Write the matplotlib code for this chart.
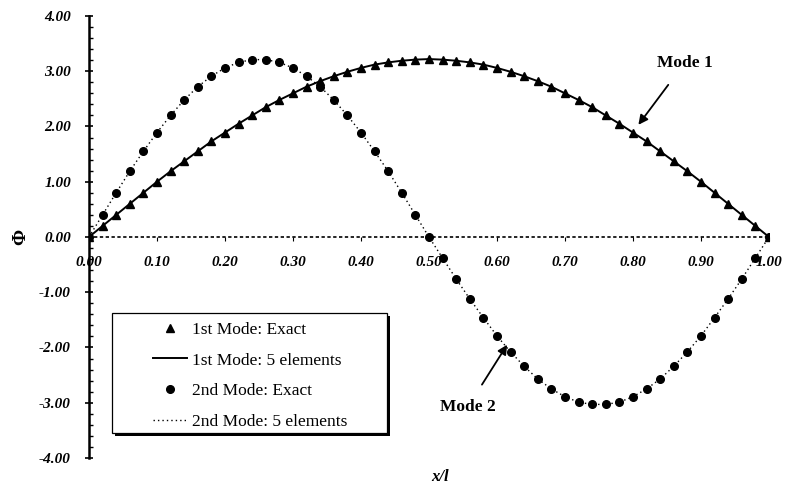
import matplotlib
matplotlib.use("Agg")
import matplotlib.pyplot as plt
from matplotlib.ticker import MultipleLocator, FixedLocator
from matplotlib.patches import Rectangle

# ---- data ----
x_pos = [0.00, 0.02, 0.04, 0.06, 0.08, 0.10, 0.12, 0.14, 0.16, 0.18,
         0.20, 0.22, 0.24, 0.26, 0.28, 0.30, 0.32, 0.34, 0.36, 0.38,
         0.40, 0.42, 0.44, 0.46, 0.48, 0.50, 0.52, 0.54, 0.56, 0.58,
         0.60, 0.62, 0.64, 0.66, 0.68, 0.70, 0.72, 0.74, 0.76, 0.78,
         0.80, 0.82, 0.84, 0.86, 0.88, 0.90, 0.92, 0.94, 0.96, 0.98, 1.00]

mode1_exact = [0.00, 0.20, 0.40, 0.60, 0.80, 1.00, 1.19, 1.37, 1.55, 1.73,
               1.89, 2.05, 2.20, 2.35, 2.48, 2.60, 2.72, 2.82, 2.91, 2.99,
               3.06, 3.12, 3.16, 3.19, 3.21, 3.22, 3.21, 3.19, 3.16, 3.12,
               3.06, 2.99, 2.91, 2.82, 2.72, 2.60, 2.48, 2.35, 2.20, 2.05,
               1.89, 1.73, 1.55, 1.37, 1.19, 1.00, 0.80, 0.60, 0.40, 0.20, 0.00]

mode1_fe = [0.00, 0.20, 0.40, 0.60, 0.80, 1.00, 1.19, 1.37, 1.55, 1.73,
            1.89, 2.05, 2.20, 2.35, 2.48, 2.60, 2.72, 2.82, 2.91, 2.99,
            3.06, 3.12, 3.16, 3.19, 3.21, 3.22, 3.21, 3.19, 3.16, 3.12,
            3.06, 2.99, 2.91, 2.82, 2.72, 2.60, 2.48, 2.35, 2.20, 2.05,
            1.89, 1.73, 1.55, 1.37, 1.19, 1.00, 0.80, 0.60, 0.40, 0.20, 0.00]

mode2_exact = [0.00, 0.40, 0.80, 1.19, 1.55, 1.89, 2.20, 2.48, 2.72, 2.91,
               3.06, 3.16, 3.21, 3.21, 3.16, 3.06, 2.91, 2.72, 2.48, 2.20,
               1.89, 1.55, 1.19, 0.80, 0.40, 0.00, -0.38, -0.76, -1.12, -1.46,
               -1.79, -2.08, -2.34, -2.57, -2.75, -2.89, -2.99, -3.03, -3.03, -2.99,
               -2.89, -2.75, -2.57, -2.34, -2.08, -1.79, -1.46, -1.12, -0.76, -0.38, 0.00]

mode2_fe = [0.00, 0.40, 0.80, 1.19, 1.55, 1.89, 2.20, 2.48, 2.72, 2.91,
            3.06, 3.16, 3.21, 3.21, 3.16, 3.06, 2.91, 2.72, 2.48, 2.20,
            1.89, 1.55, 1.19, 0.80, 0.40, 0.00, -0.38, -0.76, -1.12, -1.46,
            -1.79, -2.08, -2.34, -2.57, -2.75, -2.89, -2.99, -3.03, -3.03, -2.99,
            -2.89, -2.75, -2.57, -2.34, -2.08, -1.79, -1.46, -1.12, -0.76, -0.38, 0.00]

x_ticks = [0.0, 0.1, 0.2, 0.3, 0.4, 0.5, 0.6, 0.7, 0.8, 0.9, 1.0]
x_tick_labels = ["0.00", "0.10", "0.20", "0.30", "0.40", "0.50",
                 "0.60", "0.70", "0.80", "0.90", "1.00"]
y_ticks = [-4, -3, -2, -1, 0, 1, 2, 3, 4]
y_tick_labels = ["-4.00", "-3.00", "-2.00", "-1.00", "0.00",
                 "1.00", "2.00", "3.00", "4.00"]

serif = ["Liberation Serif", "DejaVu Serif"]

fig = plt.figure(figsize=(7.86, 4.93), dpi=100)
ax = fig.add_axes([0.1132, 0.0710, 0.8651, 0.8966])

ax.plot(x_pos, mode1_fe, color="black", lw=1.4, ls="-",
        label="1st Mode: 5 elements", zorder=3)
ax.plot(x_pos, mode2_fe, color="black", lw=1.0, ls=(0, (1, 2.2)),
        label="2nd Mode: 5 elements", zorder=3)
ax.plot(x_pos, mode1_exact, ls="none", marker="^", ms=6, color="black",
        label="1st Mode: Exact", zorder=4)
ax.plot(x_pos, mode2_exact, ls="none", marker="o", ms=5.5, color="black",
        label="2nd Mode: Exact", zorder=4)

ax.set_xlim(0, 1.0)
ax.set_ylim(-4, 4)

for s in ["top", "right"]:
    ax.spines[s].set_visible(False)
ax.spines["left"].set_linewidth(1.8)
ax.spines["left"].set_position(("data", 0))
ax.spines["bottom"].set_position(("data", 0))
ax.spines["bottom"].set_linestyle((0, (1, 2.5)))
ax.spines["bottom"].set_linewidth(1.2)

ax.xaxis.set_major_locator(FixedLocator(x_ticks))
ax.set_xticklabels(x_tick_labels)
ax.yaxis.set_major_locator(FixedLocator(y_ticks))
ax.set_yticklabels(y_tick_labels)
ax.yaxis.set_minor_locator(MultipleLocator(0.2))

ax.tick_params(axis="x", direction="out", length=3, width=0.8, pad=11)
ax.tick_params(axis="y", which="major", direction="inout", length=6, width=1.2, pad=10)
ax.tick_params(axis="y", which="minor", direction="in", length=3, width=1.0)

for lab in ax.get_xticklabels() + ax.get_yticklabels():
    lab.set_fontfamily(serif)
    lab.set_fontstyle("italic")
    lab.set_fontweight("bold")
    lab.set_fontsize(11)

ax.set_xlabel("x/l", fontfamily=serif, fontstyle="italic", fontweight="bold",
              fontsize=12)
ax.xaxis.set_label_coords(0.516, -0.025)
ax.set_ylabel("Φ", fontfamily=serif, fontweight="bold", fontsize=14)
ax.yaxis.set_label_coords(-0.088, 0.5)

# legend frame with shadow (axes fraction)
bx0, by0, bx1, by1 = 0.0338, 0.0566, 0.438, 0.328
shadow = Rectangle((bx0 + 0.004, by0 - 0.006), bx1 - bx0, by1 - by0,
                   transform=ax.transAxes, facecolor="black",
                   edgecolor="none", zorder=5)
frame = Rectangle((bx0, by0), bx1 - bx0, by1 - by0, transform=ax.transAxes,
                  facecolor="white", edgecolor="black", lw=0.9, zorder=6)
ax.add_patch(shadow)
ax.add_patch(frame)

handles, labels = ax.get_legend_handles_labels()
order = [2, 0, 3, 1]
leg = ax.legend([handles[i] for i in order], [labels[i] for i in order],
                loc="upper left", bbox_to_anchor=(0.094, 0.3085),
                prop={"family": serif, "size": 12.5},
                frameon=False, handlelength=1.95, handletextpad=0.3,
                labelspacing=0.84, borderpad=0, borderaxespad=0)
leg.set_zorder(7)

ax.annotate("Mode 1", xy=(0.808, 2.03), xytext=(0.876, 3.15),
            fontfamily=serif, fontweight="bold", fontsize=12.5,
            ha="center", va="center",
            arrowprops=dict(arrowstyle="-|>", color="black", lw=1.3,
                            mutation_scale=14, shrinkA=10, shrinkB=0))
ax.annotate("Mode 2", xy=(0.615, -1.95), xytext=(0.557, -3.08),
            fontfamily=serif, fontweight="bold", fontsize=12.5,
            ha="center", va="center",
            arrowprops=dict(arrowstyle="-|>", color="black", lw=1.3,
                            mutation_scale=14, shrinkA=10, shrinkB=0))

fig.savefig("out.png", dpi=100)
